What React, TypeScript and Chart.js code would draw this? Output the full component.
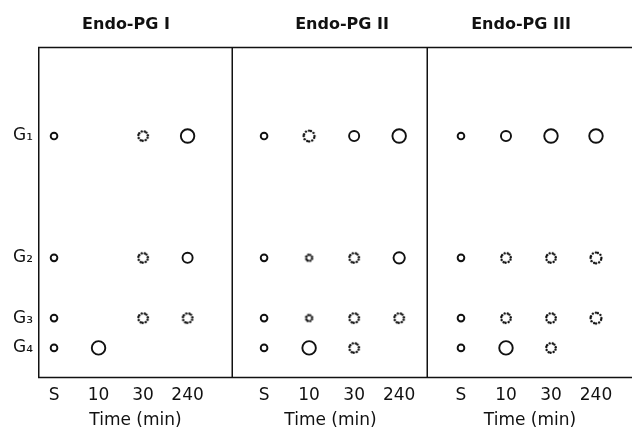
import React, { useEffect, useRef } from "react";
import { Chart, registerables } from "chart.js";

Chart.register(...registerables);

// ---------- data ----------
const timeLabels = ["S", "10", "30", "240"];
const spotLabels = ["G\u2081", "G\u2082", "G\u2083", "G\u2084"];
// migration distance of each oligosaccharide spot (axis units, 0 = origin at top)
const spotDistance = [2.69, 6.37, 8.19, 9.09];
const panelTitles = ["Endo-PG I", "Endo-PG II", "Endo-PG III"];
// spot size score per row [G1..G4] and column [S,10,30,240]
// positive = distinct spot, negative = diffuse (dotted) spot, 0 = no spot
const pgI = [
  [1, 0, -2, 4],
  [1, 0, -2, 2],
  [1, 0, -2, -2],
  [1, 4, 0, 0],
];
const pgII = [
  [1, -3, 2, 4],
  [1, -1, -2, 3],
  [1, -1, -2, -2],
  [1, 4, -2, 0],
];
const pgIII = [
  [1, 2, 4, 4],
  [1, -2, -2, -3],
  [1, -2, -2, -3],
  [1, 4, -2, 0],
];
const panelData = [pgI, pgII, pgIII];

// ---------- styling ----------
const INK = "#111111";
const FONT = '"DejaVu Sans", sans-serif';
const outerRadius: Record<number, number> = { 1: 4.3, 2: 6.0, 3: 6.6, 4: 7.7 };

const ringCache: Record<string, HTMLCanvasElement> = {};
function dottedRing(R: number): HTMLCanvasElement {
  const key = String(R);
  if (ringCache[key]) return ringCache[key];
  const size = Math.ceil(R * 2) + 4;
  const c = document.createElement("canvas");
  c.width = size;
  c.height = size;
  const g = c.getContext("2d")!;
  const n = Math.max(7, Math.round((2 * Math.PI * R) / 3.5));
  const rr = R - 1.2;
  g.fillStyle = INK;
  for (let i = 0; i < n; i++) {
    const a = (i / n) * 2 * Math.PI + 0.35 + (i % 3) * 0.08;
    g.beginPath();
    g.arc(size / 2 + rr * Math.cos(a), size / 2 + rr * Math.sin(a), 1.2, 0, 2 * Math.PI);
    g.fill();
  }
  ringCache[key] = c;
  return c;
}

type PanelCfg = {
  width: number;
  showY: boolean;
  xMin: number;
  xMax: number;
  left: boolean;
  right: boolean;
  titleX: number;
};

const panelCfgs: PanelCfg[] = [
  { width: 233, showY: true, xMin: -0.36, xMax: 4.02, left: true, right: true, titleX: 126 },
  { width: 195, showY: false, xMin: -0.69, xMax: 3.64, left: false, right: true, titleX: 109 },
  { width: 204, showY: false, xMin: -0.733, xMax: 3.8, left: false, right: false, titleX: 93 },
];

function Panel({ idx }: { idx: number }) {
  const ref = useRef<HTMLCanvasElement | null>(null);
  const cfg = panelCfgs[idx];

  useEffect(() => {
    if (!ref.current) return;
    const rows = panelData[idx];
    const points: { x: number; y: number; v: number }[] = [];
    rows.forEach((row, r) =>
      row.forEach((v, c) => {
        if (v !== 0) points.push({ x: c, y: spotDistance[r], v });
      })
    );

    const framePlugin = {
      id: "frame",
      afterDatasetsDraw(chart: any) {
        const { ctx, chartArea } = chart;
        const { left, right, top, bottom } = chartArea;
        ctx.save();
        ctx.strokeStyle = INK;
        ctx.lineWidth = 1.5;
        ctx.beginPath();
        ctx.moveTo(left, top + 0.5);
        ctx.lineTo(right, top + 0.5);
        ctx.moveTo(left, bottom - 0.5);
        ctx.lineTo(right, bottom - 0.5);
        if (cfg.left) {
          ctx.moveTo(left + 0.75, top);
          ctx.lineTo(left + 0.75, bottom);
        }
        if (cfg.right) {
          ctx.moveTo(right - 0.75, top);
          ctx.lineTo(right - 0.75, bottom);
        }
        ctx.stroke();
        ctx.restore();
      },
    };

    const headPlugin = {
      id: "panelHead",
      afterDraw(chart: any) {
        const ctx = chart.ctx;
        ctx.save();
        ctx.fillStyle = INK;
        ctx.font = `bold 16px ${FONT}`;
        ctx.textAlign = "center";
        ctx.textBaseline = "middle";
        ctx.fillText(panelTitles[idx], cfg.titleX, 25);
        ctx.restore();
      },
    };

    const chart = new Chart(ref.current, {
      type: "scatter",
      data: {
        datasets: [
          {
            label: panelTitles[idx],
            data: points as any,
            borderColor: INK,
            backgroundColor: "rgba(0,0,0,0)",
            pointBorderWidth: 1.9,
            pointRadius: (ctx: any) => {
              const v = ctx.raw ? ctx.raw.v : 1;
              const R = outerRadius[Math.abs(v)];
              return v > 0 ? R - 0.95 : R;
            },
            pointStyle: (ctx: any) => {
              const v = ctx.raw ? ctx.raw.v : 1;
              return v > 0 ? "circle" : (dottedRing(outerRadius[Math.abs(v)]) as any);
            },
          } as any,
        ],
      },
      options: {
        responsive: false,
        animation: false,
        events: [],
        layout: { autoPadding: false, padding: { top: 47, left: 0, right: 0, bottom: 0 } },
        plugins: {
          legend: { display: false },
          tooltip: { enabled: false },
          title: { display: false },
        },
        scales: {
          x: {
            type: "linear",
            min: cfg.xMin,
            max: cfg.xMax,
            grid: { display: false, drawTicks: false },
            border: { display: false },
            afterBuildTicks: (s: any) => {
              s.ticks = timeLabels.map((_, i) => ({ value: i }));
            },
            afterFit: (s: any) => {
              s.height = 53;
              s.paddingLeft = 0;
              s.paddingRight = 0;
            },
            ticks: {
              padding: 7,
              color: INK,
              font: { size: 17, family: FONT },
              maxRotation: 0,
              autoSkip: false,
              callback: (_v: any, i: number) => timeLabels[i],
            },
            title: {
              display: true,
              text: "Time (min)",
              color: INK,
              font: { size: 17, family: FONT },
              padding: { top: 0, bottom: 0 },
            },
          },
          y: {
            type: "linear",
            display: cfg.showY,
            reverse: true,
            min: 0,
            max: 10,
            grid: { display: false, drawTicks: false },
            border: { display: false },
            afterBuildTicks: (s: any) => {
              s.ticks = spotDistance.map((v) => ({ value: v }));
            },
            afterFit: (s: any) => {
              s.width = cfg.showY ? 38 : 0;
              s.paddingTop = 0;
              s.paddingBottom = 0;
            },
            ticks: {
              padding: 5,
              color: INK,
              font: { size: 17, family: FONT },
              autoSkip: false,
              callback: (_v: any, i: number) => spotLabels[i],
            },
          },
        },
      } as any,
      plugins: [framePlugin, headPlugin],
    });
    return () => chart.destroy();
  }, [idx]);

  return (
    <div style={{ width: cfg.width, height: 431, flex: "0 0 auto" }}>
      <canvas ref={ref} width={cfg.width} height={431} style={{ display: "block" }} />
    </div>
  );
}

export default function App() {
  return (
    <div
      style={{
        position: "absolute",
        left: 0,
        top: 0,
        width: 632,
        height: 431,
        display: "flex",
        background: "#fff",
        overflow: "hidden",
      }}
    >
      <Panel idx={0} />
      <Panel idx={1} />
      <Panel idx={2} />
    </div>
  );
}
